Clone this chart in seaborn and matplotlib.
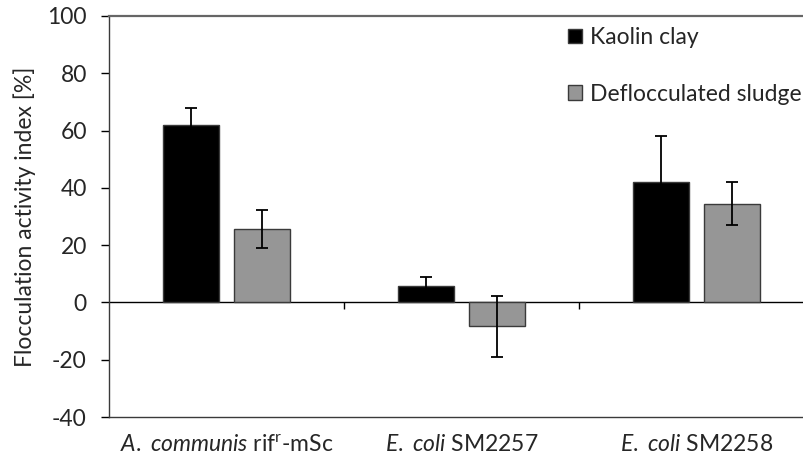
import matplotlib
matplotlib.use("Agg")
import matplotlib.pyplot as plt
import seaborn as sns
import pandas as pd
import numpy as np

# Data: flocculation activity index (%) with standard deviations
strains = ["A. communis rif-mSc", "E. coli SM2257", "E. coli SM2258"]
strain_labels = [r"$\mathit{A.}$ $\mathit{communis}$ rif$^{\mathrm{r}}$-mSc",
                 r"$\mathit{E.}$ $\mathit{coli}$ SM2257",
                 r"$\mathit{E.}$ $\mathit{coli}$ SM2258"]
series = ["Kaolin clay", "Deflocculated sludge"]
kaolin_mean = [62.0, 5.9, 42.0]
kaolin_err = [6.0, 3.0, 16.2]
sludge_mean = [25.6, -8.4, 34.5]
sludge_err = [6.5, 10.6, 7.4]
y_ticks = [-40, -20, 0, 20, 40, 60, 80, 100]

colors = {"Kaolin clay": "#000000", "Deflocculated sludge": "#969696"}

df = pd.DataFrame({
    "strain": strains * 2,
    "series": [series[0]] * 3 + [series[1]] * 3,
    "value": kaolin_mean + sludge_mean,
    "err": kaolin_err + sludge_err,
})

sns.set_theme(style="white")
plt.rcParams["font.family"] = ["Lato", "DejaVu Sans"]
plt.rcParams["mathtext.fontset"] = "custom"
plt.rcParams["mathtext.rm"] = "Lato"
plt.rcParams["mathtext.it"] = "Lato:italic"

FS = 16.5

fig = plt.figure(figsize=(8.04, 4.57), dpi=100)
ax = fig.add_axes([109 / 804, 1 - 417 / 457, (804 - 109) / 804, 401 / 457])

sns.barplot(data=df, x="strain", y="value", hue="series", order=strains,
            hue_order=series, palette=colors, errorbar=None, width=0.6,
            gap=0.2, edgecolor="#3a3a3a", linewidth=1.0, ax=ax, zorder=2)

# error bars centred on each bar
for cont, s in zip(ax.containers, series):
    sub = df[df["series"] == s].set_index("strain").loc[strains]
    xs = [p.get_x() + p.get_width() / 2 for p in cont.patches]
    ax.errorbar(xs, sub["value"], yerr=sub["err"], fmt="none",
                ecolor="black", elinewidth=1.3, capsize=4.5, capthick=1.3,
                zorder=3)

# zero line with category separators
ax.axhline(0, color="black", lw=1.0, zorder=1)
ax.vlines([0.5, 1.5], -2.2, 0, color="black", lw=1.0)

ax.set_ylim(-40, 100)
ax.set_xlim(-0.5, -0.5 + 695 / 235)
ax.set_yticks(y_ticks)
ax.set_yticklabels([str(t) for t in y_ticks])
ax.set_xticks(range(3))
ax.set_xticklabels(strain_labels)
ax.tick_params(axis="y", length=6, width=1, color="black", pad=10,
               labelsize=FS, direction="out", left=True)
ax.tick_params(axis="x", length=0, pad=12, labelsize=FS)
ax.set_xlabel("")
ax.set_ylabel("Flocculation activity index [%]", fontsize=FS, labelpad=8)

for side in ["left", "bottom", "top"]:
    ax.spines[side].set_visible(True)
    ax.spines[side].set_color("#3a3a3a")
    ax.spines[side].set_linewidth(1.0)
ax.spines["top"].set_color("#666666")
ax.spines["top"].set_linewidth(1.6)
ax.spines["right"].set_visible(False)

ax.legend(loc="upper left", bbox_to_anchor=(568 / 804, 1 - 27 / 457),
          bbox_transform=fig.transFigure, frameon=False, fontsize=FS,
          handlelength=0.62, handleheight=0.62, handletextpad=0.35,
          labelspacing=1.55, borderaxespad=0, borderpad=0)

fig.savefig("out.png", dpi=100)
